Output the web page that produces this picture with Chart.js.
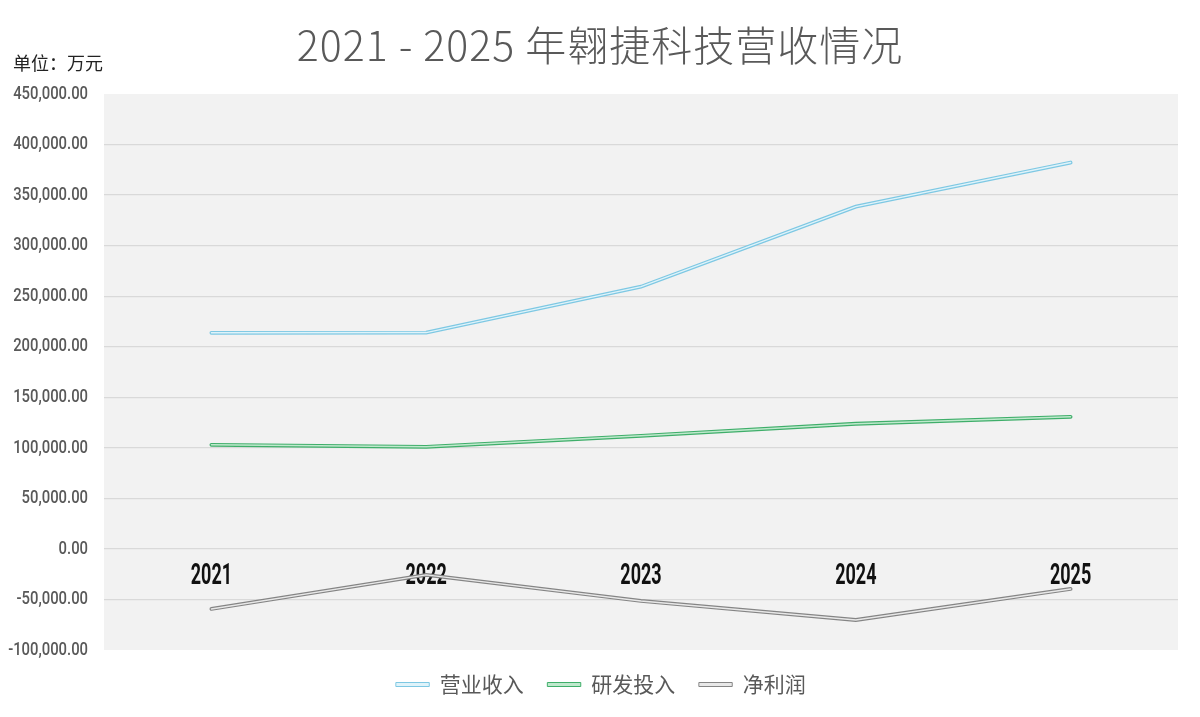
<!DOCTYPE html>
<html>
<head>
<meta charset="utf-8">
<script src="https://cdn.jsdelivr.net/npm/chart.js@4.4.0/dist/chart.umd.min.js"></script>
<style>
  html, body { margin: 0; padding: 0; background: #fff; }
  #wrap { position: relative; width: 1200px; height: 717px; }
  #title {
    position: absolute; left: 0; top: 16px; width: 1200px; text-align: center;
    font-family: "Noto Sans CJK SC", "Noto Sans", sans-serif; font-size: 41px; font-weight: 300;
    color: #595959; line-height: 54px; letter-spacing: 1px;
  }
  #unit {
    position: absolute; left: 13px; top: 50px;
    font-family: "Noto Sans CJK SC", sans-serif; font-size: 18px; color: #222; line-height: 24px;
  }
</style>
</head>
<body>
<div id="wrap">
  <canvas id="myChart" width="1200" height="717"></canvas>
  <div id="title">2021 - 2025 年翱捷科技营收情况</div>
  <div id="unit">单位：万元</div>
</div>
<script>
var years = ['2021', '2022', '2023', '2024', '2025'];
var revenue = [213800, 214000, 259400, 338600, 382200];
var rnd = [103000, 101000, 111900, 123800, 130700];
var netProfit = [-59400, -25700, -51500, -70300, -39600];
var seriesNames = ['营业收入', '研发投入', '净利润'];

var yMin = -100000, yMax = 450000;

// outer + inner stroke gives the hollow double line look
function pair(name, data, outer, inner) {
	return [
		{ label: name, data: data, borderColor: outer, backgroundColor: inner, borderWidth: 3.8, pointRadius: 0, tension: 0, order: 1, borderCapStyle: 'round' },
		{ label: name + '_in', data: data, borderColor: inner, borderWidth: 1.4, pointRadius: 0, tension: 0, order: 0, borderCapStyle: 'round' }
	];
}

var datasets = []
	.concat(pair(seriesNames[0], revenue, '#7ec8e3', '#dff3fa'))
	.concat(pair(seriesNames[1], rnd, '#3fae6a', '#bfe9cd'))
	.concat(pair(seriesNames[2], netProfit, '#858585', '#e8e8e8'));

var plotBg = {
	id: 'plotBg',
	beforeDraw: function(chart) {
		var a = chart.chartArea, c = chart.ctx;
		c.save();
		c.fillStyle = '#f2f2f2';
		c.fillRect(a.left, a.top, a.right - a.left, a.bottom - a.top);
		c.restore();
	}
};

// no condensed font installed, so squeeze the tick labels horizontally
var squeeze = { x: 0.6, y: 0.78 };
var narrowTicks = {
	id: 'narrowTicks',
	afterLayout: function(chart) {
		// legend centering counts the trailing padding, nudge it back
		if (chart.legend) { chart.legend.left += 12; chart.legend.right += 12; }
		Object.keys(squeeze).forEach(function(id) {
			var s = chart.scales[id];
			if (!s || s._squeezed) return;
			s._squeezed = true;
			s.drawLabels = function(area) {
				var c = this.ctx;
				this.getLabelItems(area).forEach(function(item) {
					var o = item.options || item;
					c.save();
					c.translate(o.translation[0], o.translation[1]);
					c.scale(squeeze[id], 1);
					c.font = item.font.string;
					c.fillStyle = o.color;
					c.textAlign = o.textAlign;
					c.textBaseline = o.textBaseline;
					c.fillText(item.label, 0, item.textOffset);
					c.restore();
				});
			};
		});
	}
};

var ctx = document.getElementById('myChart');
var myChart = new Chart(ctx, {
	type: 'line',
	data: { labels: years, datasets: datasets },
	options: {
		responsive: false,
		animation: false,
		layout: { padding: { top: 94, right: 22, bottom: 12, left: 0 } },
		plugins: {
			title: { display: false },
			tooltip: { enabled: false },
			legend: {
				position: 'bottom',
				labels: {
					color: '#595959',
					font: { family: "'Noto Sans CJK SC', sans-serif", size: 21 },
					boxWidth: 33, boxHeight: 4, padding: 24,
					filter: function(item) { return item.text.indexOf('_in') < 0; },
					generateLabels: function(chart) {
						var items = Chart.defaults.plugins.legend.labels.generateLabels(chart);
						items.forEach(function(it) { it.lineWidth = 1; });
						return items;
					}
				}
			}
		},
		scales: {
			x: {
				position: { y: 0 },
				offset: true,
				grid: { display: false },
				border: { display: false },
				ticks: { color: '#111', padding: 2, font: { family: "'Roboto', sans-serif", size: 30, weight: 'bold' } }
			},
			y: {
				min: yMin, max: yMax,
				afterFit: function(scale) { scale.width = 104; },
				grid: {
					lineWidth: 1.2, drawTicks: false,
					color: function(c) {
						var v = c.tick && c.tick.value;
						return (v === yMin || v === yMax) ? 'rgba(0,0,0,0)' : '#d9d9d9';
					}
				},
				border: { display: false },
				ticks: {
					stepSize: 50000, padding: 16, color: '#595959',
					font: { family: "'Roboto', sans-serif", size: 19, weight: '500' },
					callback: function(v) { return v.toLocaleString('en-US', { minimumFractionDigits: 2, maximumFractionDigits: 2 }); }
				}
			}
		}
	},
	plugins: [plotBg, narrowTicks]
});
</script>
</body>
</html>
